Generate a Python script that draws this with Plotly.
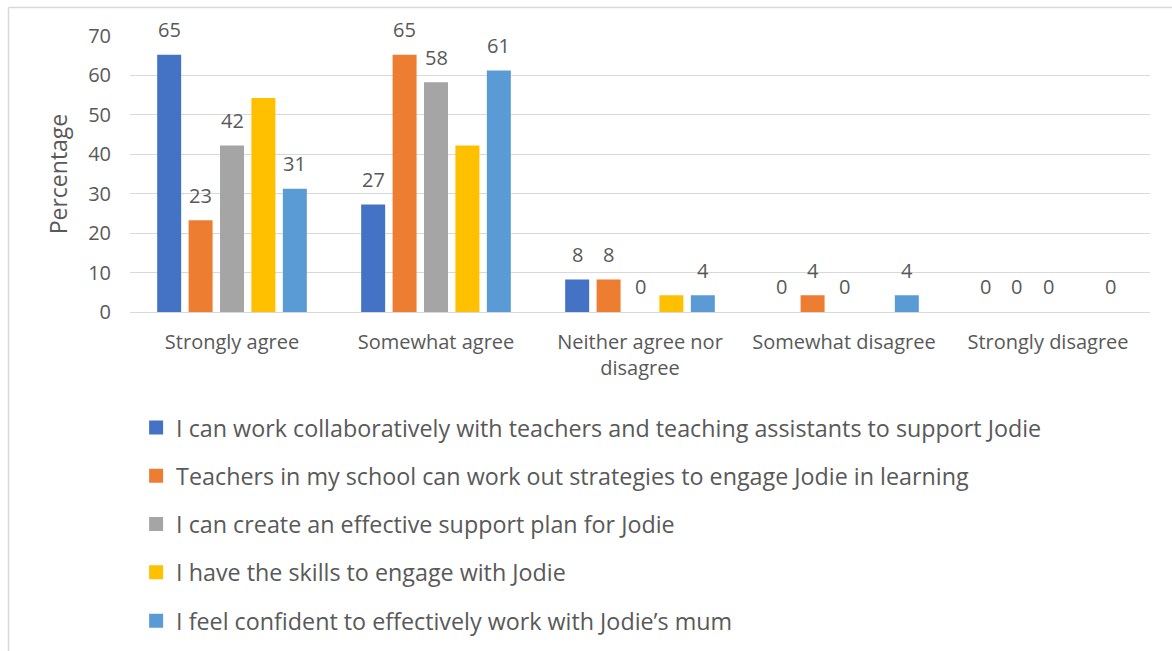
import plotly.graph_objects as go

# Survey responses (percentage of respondents per statement)
categories = [
    "Strongly agree",
    "Somewhat agree",
    "Neither agree nor<br>disagree",
    "Somewhat disagree",
    "Strongly disagree",
]
statements = [
    "I can work collaboratively with teachers and teaching assistants to support Jodie",
    "Teachers in my school can work out strategies to engage Jodie in learning",
    "I can create an effective support plan for Jodie",
    "I have the skills to engage with Jodie",
    "I feel confident to effectively work with Jodie\u2019s mum",
]
collaborate = [65, 27, 8, 0, 0]
strategies = [23, 65, 8, 4, 0]
support_plan = [42, 58, 0, 0, 0]
skills = [54, 42, 4, 0, 0]
work_with_mum = [31, 61, 4, 4, 0]
series = [collaborate, strategies, support_plan, skills, work_with_mum]
# Which series carry value labels above their bars
labelled = [True, True, True, False, True]
y_ticks = [0, 10, 20, 30, 40, 50, 60, 70]

colors = ["#4472C4", "#ED7D31", "#A5A5A5", "#FFC000", "#5B9BD5"]
text_color = "#595959"
grid_color = "#D9D9D9"
font_family = "'Open Sans', Lato, sans-serif"

W, H = 1172, 651
margin = dict(l=130, r=22, t=36, b=339, autoexpand=False)
bargap = 0.23
n_series = len(series)

fig = go.Figure()
for i, (name, vals) in enumerate(zip(statements, series)):
    fig.add_trace(go.Bar(
        x=categories,
        y=vals,
        name=name,
        marker=dict(
            color=colors[i],
            # outline only on visible bars so empty categories stay blank
            line=dict(color=colors[i], width=[2 if v > 0 else 0 for v in vals]),
        ),
        legendgroup=f"g{i}",
    ))

# Value labels, centred over each bar of the group
slot = (1 - bargap) / n_series
annotations = []
for i, vals in enumerate(series):
    if not labelled[i]:
        continue
    offset = (i - (n_series - 1) / 2) * slot
    for c, v in enumerate(vals):
        annotations.append(dict(
            x=c + offset, y=v, xref="x", yref="y",
            text=str(v), showarrow=False,
            yanchor="middle", yshift=26,
            font=dict(family=font_family, size=20, color=text_color),
        ))

plot_w = W - margin["l"] - margin["r"]
plot_h = H - margin["t"] - margin["b"]

# Light outer frame of the chart area
frame = dict(
    type="path",
    xref="paper", yref="paper",
    path="M {x0},{y1} L {x0},{y0} M {x0},{y0} L {x1},{y0}".format(
        x0=(8.5 - margin["l"]) / plot_w,
        y0=(H - margin["b"] - 7.5) / plot_h,
        x1=(W + 10 - margin["l"]) / plot_w,
        y1=(H - margin["b"] - (H + 10)) / plot_h,
    ),
    line=dict(color=grid_color, width=1.5),
    layer="below",
)

fig.update_layout(
    width=W, height=H,
    margin=margin,
    paper_bgcolor="white",
    plot_bgcolor="white",
    barmode="group",
    bargap=bargap,
    bargroupgap=0.30,
    font=dict(family=font_family, color=text_color, size=20),
    showlegend=True,
    legend=dict(
        orientation="v",
        x=0.006, xanchor="left",
        y=-0.34, yanchor="top",
        traceorder="grouped",
        tracegroupgap=15,
        font=dict(family=font_family, size=23.3, color=text_color),
        bgcolor="rgba(0,0,0,0)",
    ),
    annotations=annotations,
    shapes=[frame],
    xaxis=dict(
        showgrid=False,
        showline=False,
        ticks="",
        ticklabelstandoff=16,
        tickfont=dict(family=font_family, size=20, color=text_color),
    ),
    yaxis=dict(
        range=[0, 70],
        tickvals=y_ticks,
        showgrid=True,
        gridcolor=grid_color,
        gridwidth=1.3,
        zeroline=True,
        zerolinecolor=grid_color,
        zerolinewidth=1.3,
        showline=False,
        ticks="",
        ticklabelstandoff=18,
        tickfont=dict(family=font_family, size=20, color=text_color),
        title=dict(text="Percentage", standoff=14,
                   font=dict(family=font_family, size=23, color=text_color)),
    ),
)

fig.write_html("out.html")
